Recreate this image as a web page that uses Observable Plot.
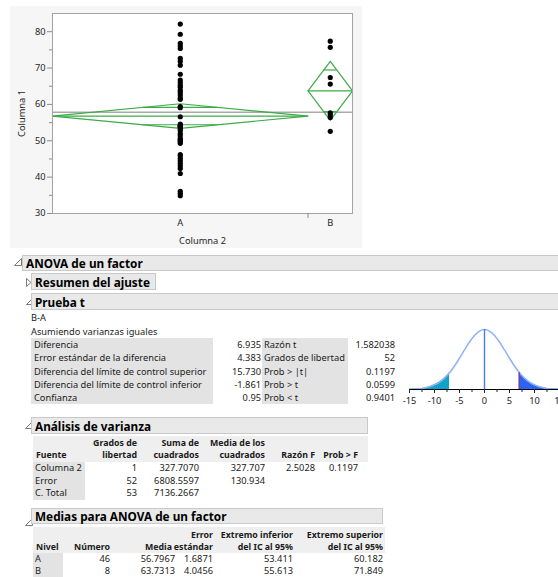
<!DOCTYPE html>
<html><head><meta charset="utf-8">
<script src="https://cdn.jsdelivr.net/npm/d3@7"></script>
<script src="https://cdn.jsdelivr.net/npm/@observablehq/plot@0.6"></script>
<style>
html,body{margin:0;padding:0;}
body{width:558px;height:577px;overflow:hidden;background:#fff;position:relative;}
#root{position:absolute;left:0;top:0;width:558px;height:577px;overflow:hidden;}
.abs{position:absolute;white-space:nowrap;}
svg{overflow:visible}
</style></head><body>
<div id="root"></div>
<script>
// ---------- data ----------
const groups = ["A", "B"];
const counts = [46, 8];
const means = [56.7967, 63.7313];
const lower95 = [53.411, 55.613];
const upper95 = [60.182, 71.849];
const stdErr = [1.6871, 4.0456];
const valuesA = [82.1,79.3,76.8,76.1,75.4,72.7,71.9,70.8,68.3,66.7,66.0,65.3,64.7,63.9,63.3,62.6,61.8,61.4,59.4,59.1,
  56.6,54.6,54.3,54.0,54.0,53.7,53.4,52.8,52.0,51.4,50.6,50.3,50.0,49.7,49.3,46.2,45.8,45.1,44.5,43.8,43.1,42.4,41.0,36.1,35.5,34.9];
const valuesB = [77.4,75.7,67.4,65.6,57.7,57.1,56.4,52.6];
const yTicks = [30,40,50,60,70,80];
const yMinor = [35,45,55,65,75];

// t-density shown in "Prueba t" (relative height)
const tX = [-15,-14,-13,-12,-11,-10,-9,-8,-7,-6,-5,-4,-3,-2,-1,0,1,2,3,4,5,6,7,8,9,10,11,12,13,14,15];
const tY = [0.004,0.007,0.013,0.025,0.045,0.078,0.124,0.19,0.279,0.392,0.522,0.659,0.791,0.901,0.974,1,
  0.974,0.901,0.791,0.659,0.522,0.392,0.279,0.19,0.124,0.078,0.045,0.025,0.013,0.007,0.004];
const tTicks = [-15,-10,-5,0,5,10,15];
const tMinor = [-12.5,-7.5,-2.5,2.5,7.5,12.5];
const difference = 6.935;

// report tables (text)
const ttLabels1 = ["Diferencia","Error estándar de la diferencia","Diferencia del límite de control superior","Diferencia del límite de control inferior","Confianza"];
const ttValues1 = ["6.935","4.383","15.730","-1.861","0.95"];
const ttLabels2 = ["Razón t","Grados de libertad","Prob > |t|","Prob > t","Prob < t"];
const ttValues2 = ["1.582038","52","0.1197","0.0599","0.9401"];

const avHead1 = ["","Grados de","Suma de","Media de los","",""];
const avHead2 = ["Fuente","libertad","cuadrados","cuadrados","Razón F","Prob > F"];
const avSource = ["Columna 2","Error","C. Total"];
const avDF = ["1","52","53"];
const avSS = ["327.7070","6808.5597","7136.2667"];
const avMS = ["327.707","130.934",""];
const avF = ["2.5028","",""];
const avP = ["0.1197","",""];

const mdHead1 = ["","","","Error","Extremo inferior","Extremo superior"];
const mdHead2 = ["Nivel","Número","Media","estándar","del IC al 95%","del IC al 95%"];

// ---------- fonts ----------
const FAM = '"Segoe UI","Noto Sans","Open Sans",sans-serif';
const cv = document.createElement("canvas").getContext("2d");
function fit(str, target, bold){ cv.font = (bold?"bold ":"")+"20px "+FAM; return 20*target/cv.measureText(str).width; }
const FS = fit("Diferencia del límite de control superior",172.6,false);
const FH = fit("Medias para ANOVA de un factor",191.7,true);
const FTH = fit("Extremo inferior",72.3,true);

const root = document.getElementById("root");
function box(x,y,w,h,style){ const d=document.createElement("div"); d.className="abs";
  Object.assign(d.style,{left:x+"px",top:y+"px",width:w+"px",height:h+"px",boxSizing:"border-box"},style||{}); root.appendChild(d); return d; }
function txt(s,x,yc,opt){ opt=opt||{}; const d=document.createElement("div"); d.className="abs"; d.textContent=s;
  const fs=opt.fs||FS; d.style.font=(opt.bold?"bold ":"")+fs+"px "+FAM; d.style.lineHeight="20px"; d.style.top=(yc-10)+"px";
  if(opt.right!==undefined) d.style.right=(558-opt.right)+"px"; else d.style.left=x+"px";
  d.style.color=opt.color||"#1b1b1b"; root.appendChild(d); return d; }
function icon(x,y,open){ const s=document.createElementNS("http://www.w3.org/2000/svg","svg");
  s.setAttribute("width","9"); s.setAttribute("height","9"); s.style.position="absolute"; s.style.left=x+"px"; s.style.top=y+"px";
  const p=document.createElementNS("http://www.w3.org/2000/svg","polygon");
  p.setAttribute("points", open ? "0.5,7.5 7.5,7.5 7.5,0.5" : "0.5,0.5 0.5,8.5 5,4.5");
  p.setAttribute("fill","none"); p.setAttribute("stroke","#7a7a7a"); p.setAttribute("stroke-width","1");
  s.appendChild(p); root.appendChild(s); }
function header(label,x,y,w,h){ box(x,y,w,h,{background:"#e9e9e9",border:"1px solid #c9c9c9"}); txt(label,x+4,y+h/2,{bold:true,fs:FH,color:"#000"}); }

// ---------- main chart ----------
box(10,6,352,242,{background:"#f6f6f6"});
const N = d3.sum(counts);
const cum = [0]; counts.forEach((c,i)=>cum.push(cum[i]+c));
const grp = groups.map((g,i)=>({g, n:counts[i], x0:cum[i], x1:cum[i+1], xc:(cum[i]+cum[i+1])/2, mean:means[i], lo:lower95[i], hi:upper95[i]}));
const grand = d3.sum(grp, d=>d.n*d.mean)/N;
const pts = [...valuesA.map(v=>({x:grp[0].xc,y:v})), ...valuesB.map(v=>({x:grp[1].xc,y:v}))];
const diamonds = grp.flatMap(d=>[
  {g:d.g,x:d.x0,y:d.mean},{g:d.g,x:d.xc,y:d.hi},{g:d.g,x:d.x1,y:d.mean},{g:d.g,x:d.xc,y:d.lo},{g:d.g,x:d.x0,y:d.mean}]);
const overlaps = grp.flatMap(d=>{ const dd=(d.hi-d.mean)/Math.SQRT2; const hw=(d.x1-d.x0)/2*(1-1/Math.SQRT2);
  return [{x1:d.xc-hw,x2:d.xc+hw,y:d.mean+dd},{x1:d.xc-hw,x2:d.xc+hw,y:d.mean-dd}]; });
const green = "#3dab48";

const main = Plot.plot({
  width:365, height:250, marginLeft:52, marginRight:13, marginTop:13, marginBottom:37,
  style:{background:"transparent", fontFamily:FAM, fontSize:FS+"px", color:"#262626", overflow:"visible"},
  x:{domain:[0,N]}, y:{domain:[30,85]},
  marks:[
    Plot.frame({fill:"white", stroke:null}),
    Plot.ruleY([grand],{stroke:"#a9a9a9", strokeWidth:1.4}),
    Plot.line(diamonds,{x:"x",y:"y",z:"g",stroke:green,strokeWidth:1.2}),
    Plot.ruleY(grp,{x1:"x0",x2:"x1",y:"mean",stroke:green,strokeWidth:1.2}),
    Plot.ruleY(overlaps,{x1:"x1",x2:"x2",y:"y",stroke:green,strokeWidth:1.2}),
    Plot.dot(pts,{x:"x",y:"y",r:2.6,fill:"#000",stroke:null}),
    Plot.frame({stroke:"#a3a3a3"}),
    Plot.axisY({ticks:yTicks, tickSize:5, tickPadding:2, stroke:"#8c8c8c", label:"Columna 1", labelAnchor:"center", labelArrow:"none", labelOffset:34}),
    Plot.axisY({ticks:yMinor, tickSize:3, tickFormat:()=>"", stroke:"#8c8c8c", label:null}),
    Plot.axisX({ticks:grp.map(d=>d.xc), tickFormat:v=>grp.find(d=>d.xc===v).g, tickSize:0, tickPadding:6, label:"Columna 2", labelAnchor:"center", labelArrow:"none", labelOffset:30}),
    Plot.axisX({ticks:cum.slice(1,-1), tickSize:5, tickFormat:()=>"", stroke:"#8c8c8c", label:null})
  ]
});
const mainWrap = box(0,0,365,250,{}); mainWrap.appendChild(main);

// ---------- report ----------
icon(14,258,true);
header("ANOVA de un factor",22,255,560,16);
icon(26,278,false);
header("Resumen del ajuste",31,273,125,17);
icon(26,297,true);
header("Prueba t",31,293,560,17);

txt("B-A",31,318.3);
txt("Asumiendo varianzas iguales",31,331.7);
const rowY = [345,358.3,371.6,385,398.3];
box(31,338,182,66,{background:"#e3e3e3"});
box(261.6,338,86,66,{background:"#e3e3e3"});
ttLabels1.forEach((s,i)=>txt(s,34,rowY[i]));
ttValues1.forEach((s,i)=>txt(s,0,rowY[i],{right:261}));
ttLabels2.forEach((s,i)=>txt(s,264,rowY[i]));
ttValues2.forEach((s,i)=>txt(s,0,rowY[i],{right:395}));

// t distribution
const tData = tX.map((x,i)=>({x,y:tY[i]}));
const tplot = Plot.plot({
  width:200, height:92, marginLeft:29, marginRight:21, marginTop:9, marginBottom:23,
  style:{background:"transparent", fontFamily:FAM, fontSize:FS+"px", color:"#222", overflow:"visible"},
  x:{domain:[-15,15]}, y:{domain:[0,1], axis:null},
  marks:[
    Plot.areaY(tData.filter(d=>d.x<=-7),{x:"x",y:"y",fill:"#10a2ca",curve:"monotone-x"}),
    Plot.areaY(tData.filter(d=>d.x>=7),{x:"x",y:"y",fill:"#2d63f2",curve:"monotone-x"}),
    Plot.line(tData,{x:"x",y:"y",stroke:"#8fb2f8",strokeWidth:1.5,curve:"monotone-x"}),
    Plot.ruleX([0],{y1:0,y2:1,stroke:"#4a7cf5",strokeWidth:1.4}),
    Plot.ruleX([difference],{y1:0,y2:tY[tX.indexOf(7)],stroke:"#7b3f99",strokeWidth:1.5}),
    Plot.ruleY([0],{stroke:"#000"}),
    Plot.axisX({ticks:tTicks, tickSize:4, tickPadding:4, tickFormat:d=>String(d), label:null}),
    Plot.axisX({ticks:tMinor, tickSize:3, tickFormat:()=>"", label:null})
  ]
});
const tWrap = box(380,320,200,92,{}); tWrap.appendChild(tplot);

// Análisis de varianza
icon(25,421,true);
header("Análisis de varianza",31,417,337,17);
box(33,436,335,26,{background:"#efefef"});
box(33,462,52,38,{background:"#e3e3e3"});
const avRight = [null,137,199,265,315,358];
const avHY = [443,454.5];
avHead1.forEach((s,i)=>{ if(s) txt(s,0,avHY[0],{bold:true,fs:FTH,right:avRight[i]}); });
avHead2.forEach((s,i)=>{ if(i===0) txt(s,36,avHY[1],{bold:true,fs:FTH}); else txt(s,0,avHY[1],{bold:true,fs:FTH,right:avRight[i]}); });
const avRowY = [468,480.5,493];
avSource.forEach((s,i)=>{
  txt(s,35,avRowY[i]);
  [avDF[i],avSS[i],avMS[i],avF[i],avP[i]].forEach((v,j)=>{ if(v) txt(v,0,avRowY[i],{right:avRight[j+1]}); });
});

// Medias para ANOVA de un factor
icon(25,518,true);
header("Medias para ANOVA de un factor",31,508,352,16);
box(33,527,352,26,{background:"#efefef"});
box(33,553,30,26,{background:"#e3e3e3"});
const mdRight = [null,110,175,213,293,383];
const mdHeadRight = [null,110,172,213,293,383];
const mdHY = [535,547];
mdHead1.forEach((s,i)=>{ if(s) txt(s,0,mdHY[0],{bold:true,fs:FTH,right:mdHeadRight[i]}); });
mdHead2.forEach((s,i)=>{ if(i===0) txt(s,36,mdHY[1],{bold:true,fs:FTH}); else txt(s,0,mdHY[1],{bold:true,fs:FTH,right:mdHeadRight[i]}); });
const mdRowY = [558.5,570.5];
groups.forEach((g,i)=>{
  txt(g,35,mdRowY[i]);
  [String(counts[i]), means[i].toFixed(4), stdErr[i].toFixed(4), lower95[i].toFixed(3), upper95[i].toFixed(3)]
    .forEach((v,j)=>txt(v,0,mdRowY[i],{right:mdRight[j+1]}));
});
</script>
</body></html>
